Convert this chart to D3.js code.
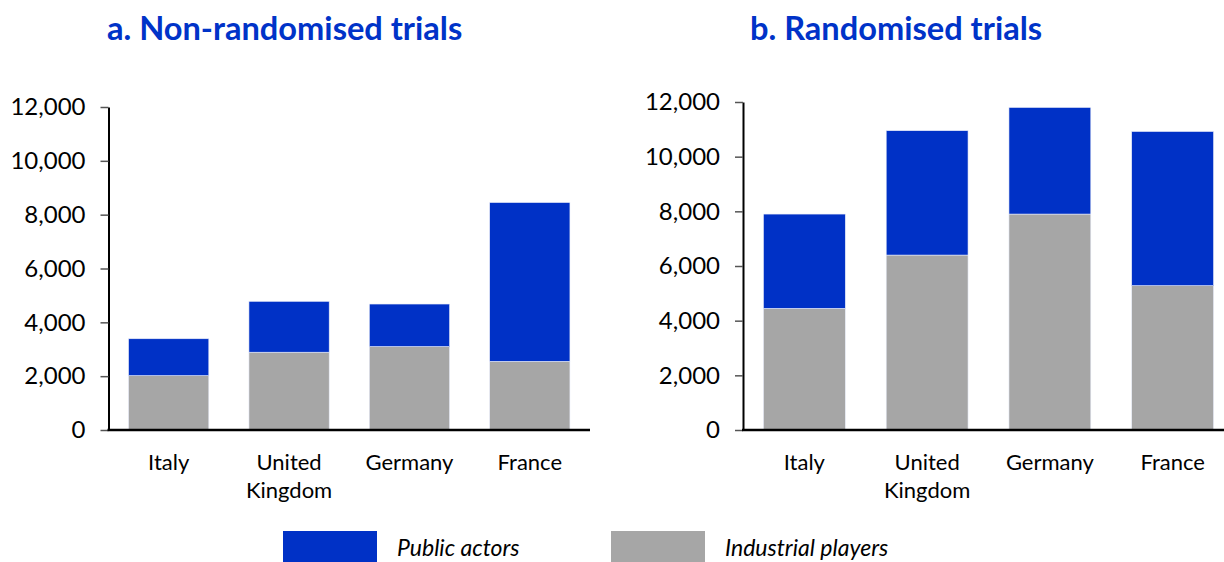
<!DOCTYPE html>
<html>
<head>
<meta charset="utf-8" />
<script src="https://d3js.org/d3.v7.min.js"></script>
<style>
  body { margin: 0; background: #fff; }
  text { font-family: Lato, "Open Sans", sans-serif; fill: #000; }
  .title { font-weight: bold; fill: #0033c8; font-size: 32.6px; }
  .tick text { font-size: 24px; }
  .cat { font-size: 22px; }
  .legend-label { font-size: 23px; font-style: italic; }
</style>
</head>
<body>
<svg id="chart" width="1224" height="562"></svg>
<script>
// categories shared by both panels
const countries = ["Italy", "United Kingdom", "Germany", "France"];
const seriesNames = ["Industrial players", "Public actors"];
const yTicks = [0, 2000, 4000, 6000, 8000, 10000, 12000];

// a. non-randomised trials
const nonRandIndustrial = [2020, 2890, 3100, 2550];
const nonRandPublic = [1370, 1890, 1580, 5900];

// b. randomised trials
const randIndustrial = [4450, 6400, 7900, 5280];
const randPublic = [3450, 4550, 3900, 5640];

const colors = { "Public actors": "#0031c6", "Industrial players": "#a6a6a6" };

const svg = d3.select("#chart");

function panel(title, titleX, industrial, pub, x0, x1, yTop) {
  const rows = countries.map((c, i) => ({
    country: c,
    "Industrial players": industrial[i],
    "Public actors": pub[i]
  }));
  const stack = d3.stack().keys(seriesNames)(rows);

  const x = d3.scaleBand().domain(countries).range([x0, x1]).paddingInner(1 / 3).paddingOuter(1 / 6);
  const y = d3.scaleLinear().domain([0, 12000]).range([430, yTop]);

  const g = svg.append("g");

  g.append("text").attr("class", "title")
    .attr("x", titleX).attr("y", 40)
    .text(title);

  g.selectAll("g.series")
    .data(stack)
    .join("g")
    .attr("class", "series")
    .attr("fill", d => colors[d.key])
    .selectAll("rect")
    .data(d => d)
    .join("rect")
    .attr("x", d => x(d.data.country))
    .attr("width", x.bandwidth())
    .attr("y", d => y(d[1]))
    .attr("height", d => y(d[0]) - y(d[1]))
    .attr("stroke", "#e8ecf8")
    .attr("stroke-width", 0.6);

  // y axis
  const ya = g.append("g")
    .attr("transform", `translate(${x0},0)`)
    .call(d3.axisLeft(y).tickValues(yTicks).tickSize(8).tickSizeOuter(0).tickPadding(15)
      .tickFormat(d3.format(",")));
  ya.select(".domain").attr("stroke", "#000").attr("stroke-width", 2);
  ya.selectAll(".tick line").attr("stroke", "#555").attr("stroke-width", 1.5);
  ya.selectAll(".tick text").attr("fill", "#000").style("font-family", "Lato, sans-serif");

  // x axis line
  g.append("line")
    .attr("x1", x0 - 1).attr("x2", x1)
    .attr("y1", y(0)).attr("y2", y(0))
    .attr("stroke", "#000").attr("stroke-width", 2.5);

  // category labels, wrapped on spaces
  const cats = g.selectAll("text.cat")
    .data(countries)
    .join("text")
    .attr("class", "cat")
    .attr("text-anchor", "middle")
    .attr("x", d => x(d) + x.bandwidth() / 2)
    .attr("y", 470);
  cats.each(function (d) {
    const words = d.split(" ");
    const t = d3.select(this);
    words.forEach((w, i) => {
      t.append("tspan")
        .attr("x", x(d) + x.bandwidth() / 2)
        .attr("dy", i === 0 ? 0 : 28)
        .text(w);
    });
  });
}

panel("a. Non-randomised trials", 107, nonRandIndustrial, nonRandPublic, 108.5, 590, 107);
panel("b. Randomised trials", 750, randIndustrial, randPublic, 743, 1234, 102);

// legend
const legendItems = [
  { name: "Public actors", x: 283 },
  { name: "Industrial players", x: 611 }
];
const lg = svg.append("g");
lg.selectAll("rect")
  .data(legendItems)
  .join("rect")
  .attr("x", d => d.x).attr("y", 531)
  .attr("width", 94).attr("height", 31)
  .attr("fill", d => colors[d.name]);
lg.selectAll("text")
  .data(legendItems)
  .join("text")
  .attr("class", "legend-label")
  .attr("x", d => d.x + 114).attr("y", 556)
  .text(d => d.name);
</script>
</body>
</html>
